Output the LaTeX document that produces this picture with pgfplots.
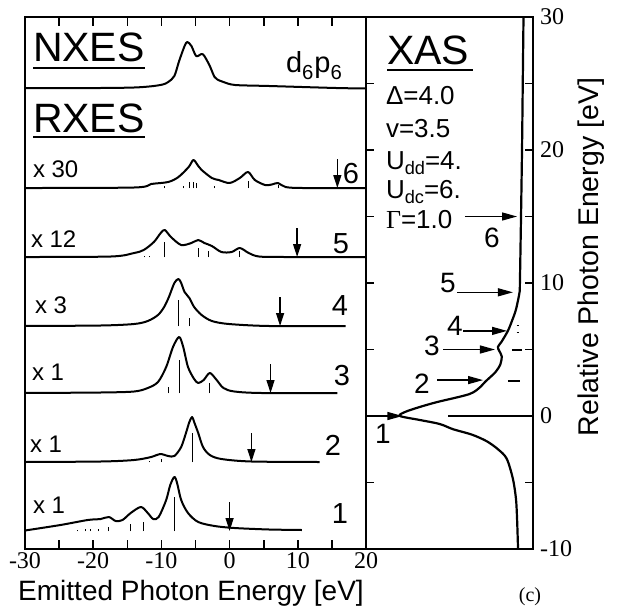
\documentclass[border=0pt]{standalone}
\usepackage{fontspec}
\setmainfont{Liberation Serif}
\setsansfont{Liberation Sans}
\usepackage{graphicx}
\usepackage{pgfplots}
\pgfplotsset{compat=1.18}
\usetikzlibrary{arrows.meta}

\newcommand{\fs}[1]{\fontsize{#1}{#1}\selectfont}
\newcommand{\lo}[1]{\raisebox{-0.22em}{\scalebox{0.70}{#1}}}

\pgfplotsset{
  spec/.style={black, line width=2pt, smooth, mark=none, line join=round},
  sticks/.style={black, only marks, mark=*, mark size=0pt,
    error bars/.cd, y dir=plus, y explicit, error mark=none,
    error bar style={black, solid, line width=0.9pt}},
}
\tikzset{
  downarr/.style={black, line width=1.3pt, -{Triangle[length=13pt,width=8pt]}},
  sidearr/.style={black, line width=1.3pt, -{Triangle[length=15pt,width=8pt]}},
}

\begin{document}
\begin{tikzpicture}
\path[use as bounding box] (0pt,0pt) rectangle (621pt,-610pt);

% ---------------- emission spectra (NXES and RXES) ----------------
\begin{axis}[
  at={(25pt,-549pt)}, anchor=south west,
  scale only axis, width=341pt, height=532pt,
  xmin=-30, xmax=20, ymin=0, ymax=532,
  axis line style={line width=1.6pt},
  xtick={-30,-20,-10,0,10,20},
  xticklabels={-30,-20,-10,0,10,20},
  minor xtick={-25,-15,-5,5,15},
  ytick=\empty,
  xtick pos=both, xticklabel pos=bottom,
  tick align=inside,
  major tick length=9pt, minor tick length=9pt,
  tick style={black, line width=1.6pt},
  xticklabel style={font=\fs{24}, inner sep=3pt},
  clip=false,
]
% NXES
\addplot[spec] table[x=E, y expr=\thisrow{h}+460] {
E h
-30 1
-18.9 1
-14 1.5
-11.5 2.7
-9.8 4.5
-9.0 7
-8.1 13
-7.4 28
-6.6 43
-6.2 47
-5.6 43
-4.9 33
-4.1 35
-3.7 33
-2.9 23
-2.2 12
-1.5 8.5
-0.9 7
0.8 4
5.8 3
15.6 1
20 0.5
};
% RXES 6 (x30)
\addplot[spec] table[x=E, y expr=\thisrow{h}+361] {
E h
-30 0
-14 0.5
-11.5 4
-9 6
-7.5 11
-6 21
-5.3 28
-4.6 22
-4.1 18
-2.6 10
-1.6 8
0 5
1.5 10
2.7 16
3.7 8
5.2 3
6.2 3.5
7.1 5
8.2 1
10.7 0
20 0
};
\addplot[sticks] table[x=E, y expr=361, y error=h] {
E h
-9.6 2
-6.8 2
-5.9 6
-5.3 6
-4.9 5
-2.2 2
2.7 7
7.1 3
};
% RXES 5 (x12)
\addplot[spec] table[x=E, y expr=\thisrow{h}+292] {
E h
-30 0
-17.4 0.5
-14 4
-12.6 7
-11.1 15
-10.1 24
-9.5 27
-8.6 20
-7.1 12
-5.6 14
-4.6 17
-3.7 14
-2.6 11
-1.2 5
0.3 5
1.5 9
2.8 4
4.3 0.5
8 0
20 0
};
\addplot[sticks] table[x=E, y expr=292, y error=h] {
E h
-12.5 1
-11.8 1
-9.5 15
-4.6 9
-3.1 6
1.5 6
};
% RXES 4 (x3)
\addplot[spec] table[x=E, y expr=\thisrow{h}+223] {
E h
-30 0
-18.9 0.5
-14 2
-12 5
-10.5 11
-9.6 19
-8.9 29
-8.1 43
-7.5 47
-7.1 43
-6.6 34
-5.9 28
-5.2 19
-4.1 11
-2.6 5
-0.1 2
5.8 0
17 0
};
\addplot[sticks] table[x=E, y expr=223, y error=h] {
E h
-7.5 26
-5.9 8
};
% RXES 3 (x1)
\addplot[spec] table[x=E, y expr=\thisrow{h}+156] {
E h
-30 0
-18.9 0.5
-14 1.5
-12 5
-10.5 11
-9.3 26
-8.3 46
-7.4 56
-6.8 46
-6.1 26
-5.2 14
-4.6 10
-3.8 13
-2.9 20
-1.9 13
-0.9 5
0.7 1.5
4.7 0
15.8 0
};
\addplot[sticks] table[x=E, y expr=156, y error=h] {
E h
-9.0 6
-7.4 33
-2.9 10
};
% RXES 2 (x1)
\addplot[spec] table[x=E, y expr=\thisrow{h}+87] {
E h
-30 0
-18.9 0.5
-14 2
-11.5 5
-10.2 8
-9.0 6
-8.1 6
-7.1 15
-6.4 29
-5.9 40
-5.5 45
-5.2 40
-4.6 29
-3.9 15
-2.9 7
-1.2 3
3.2 0.5
13.2 0
};
\addplot[sticks] table[x=E, y expr=87, y error=h] {
E h
-11.8 1.5
-10.0 3
-5.5 29
};
% RXES 1 (x1)
\addplot[spec] table[x=E, y expr=\thisrow{h}+18] {
E h
-30 0.5
-24.8 6
-20.8 11
-18.9 12
-17.7 14
-16.7 10
-15.7 11
-14.5 18
-13.0 24
-12.0 18
-11.2 12
-10.4 14
-9.3 31
-8.7 46
-8.1 54
-7.7 48
-7.1 31
-6.1 18
-4.6 9
-2.2 5
0.7 3
5.8 1.5
10.6 1
};
\addplot[sticks] table[x=E, y expr=18, y error=h] {
E h
-22.3 1
-21.1 2
-20.4 2
-19.2 2
-17.7 4
-14.5 7
-12.7 9
-8.1 34
};
% incident-energy markers
\draw[downarr] (axis cs:15.8,390) -- (axis cs:15.8,361);
\draw[downarr] (axis cs:9.9,321) -- (axis cs:9.9,292);
\draw[downarr] (axis cs:7.4,252) -- (axis cs:7.4,223);
\draw[downarr] (axis cs:6.0,185) -- (axis cs:6.0,156);
\draw[downarr] (axis cs:3.2,116) -- (axis cs:3.2,87);
\draw[downarr] (axis cs:0,47) -- (axis cs:0,18);
\end{axis}

% ---------------- absorption spectrum (XAS) ----------------
\begin{axis}[
  at={(366pt,-549pt)}, anchor=south west,
  scale only axis, width=167pt, height=532pt,
  xmin=-1.274, xmax=0.0726, ymin=-10, ymax=30,
  axis line style={line width=1.6pt},
  xtick=\empty,
  ytick={-10,0,10,20,30}, yticklabels={-10,0,10,20,30},
  minor ytick={-5,5,15,25},
  ytick pos=both, yticklabel pos=right,
  tick align=inside,
  major tick length=8pt, minor tick length=8pt,
  tick style={black, line width=1.6pt},
  yticklabel style={font=\fs{24}, inner sep=7pt},
  clip=false,
]
\addplot[spec, line width=2.2pt] table[x expr=-\thisrow{I}, y=E] {
E I
30 0.004
25 0.01
20 0.016
15 0.024
10 0.033
9.3 0.036
8.0 0.065
7.2 0.095
6.4 0.13
5.6 0.18
5.2 0.21
4.9 0.20
4.5 0.18
3.9 0.19
3.3 0.23
2.6 0.31
2.2 0.35
1.65 0.44
1.05 0.70
0.68 0.84
0.3 0.96
0 1.0
-0.3 0.84
-0.6 0.68
-1.0 0.57
-1.4 0.42
-1.9 0.30
-2.5 0.21
-3.2 0.14
-4.7 0.09
-6.2 0.065
-7.7 0.056
-10 0.048
};
% line spectrum
\addplot[black, line width=2pt] coordinates {(-0.61,0) (0.0726,0)};
\addplot[black, line width=2pt] coordinates {(-0.097,5.0) (-0.016,5.0)};
\addplot[black, line width=2pt] coordinates {(-0.13,2.6) (-0.03,2.6)};
\addplot[black, line width=1pt] coordinates {(-0.06,6.3) (-0.04,6.3)};
\addplot[black, line width=1pt] coordinates {(-0.06,6.8) (-0.04,6.8)};
% excitation energies
\draw[sidearr] (axis cs:-0.476,15) -- (axis cs:-0.056,15);
\draw[sidearr] (axis cs:-0.54,9.3) -- (axis cs:-0.089,9.3);
\draw[sidearr] (axis cs:-0.49,6.4) -- (axis cs:-0.137,6.4);
\draw[sidearr] (axis cs:-0.65,5.0) -- (axis cs:-0.234,5.0);
\draw[sidearr] (axis cs:-0.70,2.7) -- (axis cs:-0.33,2.7);
\draw[sidearr] (axis cs:-1.274,0) -- (axis cs:-0.98,0);
\end{axis}

% ---------------- labels ----------------
\begin{scope}[every node/.style={inner sep=0pt, outer sep=0pt}]
\node[anchor=base west, font=\sffamily\fs{41}] at (33pt,-62pt) {NXES};
\draw[line width=2.5pt] (33pt,-68pt) -- (145pt,-68pt);
\node[anchor=base west, font=\sffamily\fs{41}] at (33pt,-132pt) {RXES};
\draw[line width=2.5pt] (33pt,-137pt) -- (145pt,-137pt);
\node[anchor=base west, font=\sffamily\fs{29}] at (286pt,-73pt)
  {d\lo{6}\kern1pt p\lo{6}};

\node[anchor=base west, font=\sffamily\fs{24}] at (33pt,-177pt) {x 30};
\node[anchor=base west, font=\sffamily\fs{24}] at (31pt,-247pt) {x 12};
\node[anchor=base west, font=\sffamily\fs{24}] at (35pt,-313pt) {x 3};
\node[anchor=base west, font=\sffamily\fs{24}] at (32pt,-380pt) {x 1};
\node[anchor=base west, font=\sffamily\fs{24}] at (30pt,-452pt) {x 1};
\node[anchor=base west, font=\sffamily\fs{24}] at (33pt,-513pt) {x 1};

\node[anchor=base, font=\sffamily\fs{29}] at (351pt,-183pt) {6};
\node[anchor=base, font=\sffamily\fs{29}] at (341pt,-253pt) {5};
\node[anchor=base, font=\sffamily\fs{29}] at (340pt,-315pt) {4};
\node[anchor=base, font=\sffamily\fs{29}] at (342pt,-385pt) {3};
\node[anchor=base, font=\sffamily\fs{29}] at (333pt,-455pt) {2};
\node[anchor=base, font=\sffamily\fs{29}] at (340pt,-523pt) {1};

\node[anchor=base west, font=\sffamily\fs{41}] at (387pt,-65pt) {XAS};
\draw[line width=2.5pt] (387pt,-70pt) -- (473pt,-70pt);
\node[anchor=base west, font=\sffamily\fs{26}] at (386pt,-104pt) {Δ=4.0};
\node[anchor=base west, font=\sffamily\fs{26}] at (386pt,-137pt) {v=3.5};
\node[anchor=base west, font=\sffamily\fs{26}] at (386pt,-169pt) {U\lo{dd}=4.};
\node[anchor=base west, font=\sffamily\fs{26}] at (386pt,-198pt) {U\lo{dc}=6.};
\node[anchor=base west, font=\sffamily\fs{26}] at (386pt,-228pt) {{\rmfamily Γ}=1.0};

\node[anchor=base, font=\sffamily\fs{28}] at (492pt,-247pt) {6};
\node[anchor=base, font=\sffamily\fs{28}] at (448pt,-292pt) {5};
\node[anchor=base, font=\sffamily\fs{28}] at (455pt,-335pt) {4};
\node[anchor=base, font=\sffamily\fs{28}] at (432pt,-355pt) {3};
\node[anchor=base, font=\sffamily\fs{28}] at (422pt,-393pt) {2};
\node[anchor=base, font=\sffamily\fs{28}] at (383pt,-443pt) {1};

\node[anchor=base, font=\sffamily\fs{28}] at (191pt,-600pt) {Emitted Photon Energy [eV]};
\node[anchor=base, rotate=90, font=\sffamily\fs{28.5}] at (598pt,-257pt) {Relative Photon Energy [eV]};
\node[anchor=base, font=\fs{20}] at (530pt,-601pt) {(c)};
\end{scope}
\end{tikzpicture}
\end{document}
